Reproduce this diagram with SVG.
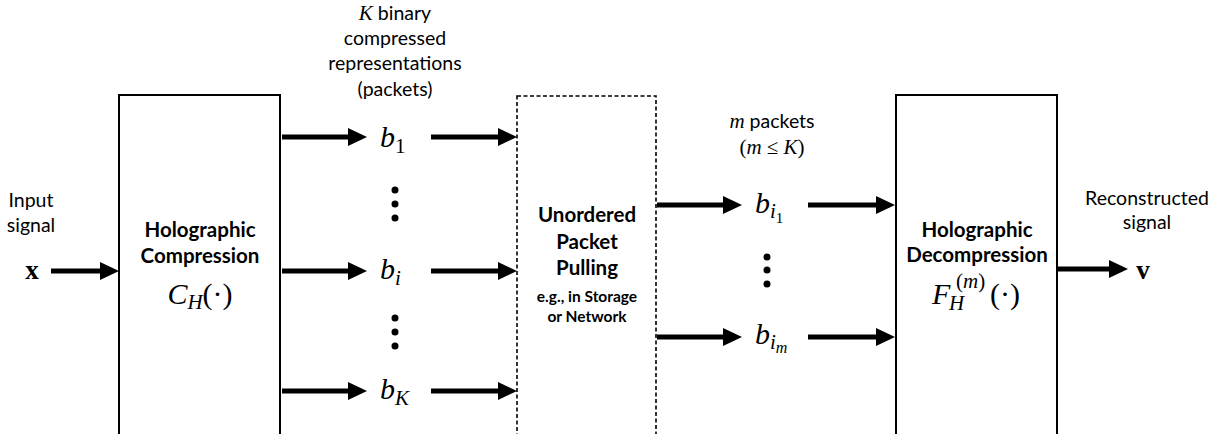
<svg xmlns="http://www.w3.org/2000/svg" width="1214" height="434" viewBox="0 0 1214 434">
<style>
.box{fill:#fff;stroke:#000;stroke-width:2}
.dash{fill:#fff;stroke:#000;stroke-width:1.6;stroke-dasharray:4 2.5}
.lbl{font-family:Lato,"Open Sans",sans-serif;font-size:19.5px;fill:#000;text-anchor:middle}
.ttl{font-family:Lato,"Open Sans",sans-serif;font-size:20.5px;font-weight:bold;fill:#000;text-anchor:middle}
.sm{font-family:Lato,"Open Sans",sans-serif;font-size:15.5px;font-weight:bold;fill:#000;text-anchor:middle}
.math{font-family:"Liberation Serif","DejaVu Serif",serif;font-size:30px;fill:#000}
.mi{font-style:italic}
.mlbl{font-family:"Liberation Serif","DejaVu Serif",serif;font-size:21px;fill:#000}
.vec{font-family:"Liberation Serif","DejaVu Serif",serif;font-size:27px;font-weight:bold;fill:#000;text-anchor:middle}
.arr{stroke:#000;stroke-width:5;fill:none;marker-end:url(#ah)}
.dot{fill:#000}
</style>
<defs>
<marker id="ah" markerUnits="userSpaceOnUse" markerWidth="20" markerHeight="20" refX="9" refY="9" orient="auto" viewBox="0 0 20 20" overflow="visible">
<path d="M0,0 L19,9 L0,18 z" fill="#000"/>
</marker>
</defs>
<rect width="1214" height="434" fill="#fff"/>

<g id="connectors">
<path class="arr" d="M51,271 H109"/>
<path class="arr" d="M282,137 H357"/>
<path class="arr" d="M282,271 H357"/>
<path class="arr" d="M282,391 H357"/>
<path class="arr" d="M431,137 H507"/>
<path class="arr" d="M431,271 H507"/>
<path class="arr" d="M431,391 H507"/>
<path class="arr" d="M657,205 H732"/>
<path class="arr" d="M657,337 H732"/>
<path class="arr" d="M808,205 H885"/>
<path class="arr" d="M808,337 H885"/>
<path class="arr" d="M1058,269 H1118"/>
</g>

<g id="input">
<text class="lbl" x="31" y="207">Input</text>
<text class="lbl" x="31" y="232">signal</text>
<text class="vec" x="32" y="279">x</text>
</g>

<g id="compression">
<rect class="box" x="119" y="95" width="161" height="360"/>
<text class="ttl" x="200" y="237">Holographic</text>
<text class="ttl" x="200" y="263">Compression</text>
<text class="math" x="200" y="304" text-anchor="middle"><tspan class="mi">C</tspan><tspan class="mi" font-size="21" dy="5">H</tspan><tspan dy="-5">(·)</tspan></text>
</g>

<g id="packets">
<text class="lbl" x="395" y="20"><tspan class="mi" font-family="Liberation Serif,serif" font-size="21">K</tspan>  binary</text>
<text class="lbl" x="395" y="45">compressed</text>
<text class="lbl" x="395" y="70">representations</text>
<text class="lbl" x="395" y="96">(packets)</text>
<text class="math" x="380" y="147"><tspan class="mi">b</tspan><tspan font-size="21" dy="6">1</tspan></text>
<circle class="dot" cx="395" cy="190" r="3.5"/>
<circle class="dot" cx="395" cy="204" r="3.5"/>
<circle class="dot" cx="395" cy="218" r="3.5"/>
<text class="math" x="380" y="279"><tspan class="mi">b</tspan><tspan class="mi" font-size="21" dy="6">i</tspan></text>
<circle class="dot" cx="395" cy="318" r="3.5"/>
<circle class="dot" cx="395" cy="332" r="3.5"/>
<circle class="dot" cx="395" cy="346" r="3.5"/>
<text class="math" x="380" y="399"><tspan class="mi">b</tspan><tspan class="mi" font-size="21" dy="6">K</tspan></text>
</g>

<g id="pulling">
<rect class="dash" x="517" y="96" width="139" height="360"/>
<text class="ttl" x="587" y="222">Unordered</text>
<text class="ttl" x="587" y="249">Packet</text>
<text class="ttl" x="587" y="275">Pulling</text>
<text class="sm" x="587" y="302">e.g., in Storage</text>
<text class="sm" x="587" y="322">or Network</text>
</g>

<g id="selected">
<text class="lbl" x="772" y="128"><tspan class="mi" font-family="Liberation Serif,serif" font-size="21">m</tspan> packets</text>
<text class="mlbl" x="772" y="154" text-anchor="middle">(<tspan class="mi">m</tspan> ≤ <tspan class="mi">K</tspan>)</text>
<text class="math" x="755" y="213"><tspan class="mi">b</tspan><tspan class="mi" font-size="21" dy="5">i</tspan><tspan font-size="15" dy="5">1</tspan></text>
<circle class="dot" cx="767" cy="257" r="3.5"/>
<circle class="dot" cx="767" cy="270" r="3.5"/>
<circle class="dot" cx="767" cy="284" r="3.5"/>
<text class="math" x="755" y="344"><tspan class="mi">b</tspan><tspan class="mi" font-size="21" dy="5">i</tspan><tspan class="mi" font-size="16" dy="4">m</tspan></text>
</g>

<g id="decompression">
<rect class="box" x="896" y="95" width="161" height="360"/>
<text class="ttl" x="977" y="237">Holographic</text>
<text class="ttl" x="977" y="262">Decompression</text>
<text class="math" x="932" y="304"><tspan class="mi">F</tspan><tspan class="mi" font-size="21" x="949" dy="6">H</tspan><tspan font-size="21" x="956" dy="-22">(</tspan><tspan class="mi" font-size="21">m</tspan><tspan font-size="21">)</tspan><tspan x="990" dy="16">(·)</tspan></text>
</g>

<g id="output">
<text class="lbl" x="1147" y="205">Reconstructed</text>
<text class="lbl" x="1147" y="229">signal</text>
<text class="vec" x="1143" y="279">v</text>
</g>
</svg>
